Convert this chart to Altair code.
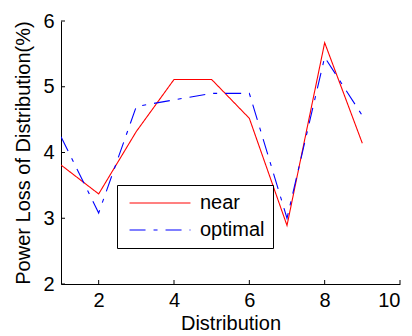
import altair as alt
import pandas as pd

x_vals = [1, 2, 3, 4, 5, 6, 7, 8, 9]
near = [3.81, 3.37, 4.32, 5.11, 5.11, 4.52, 2.89, 5.67, 4.14]
optimal = [4.24, 3.08, 4.70, 4.80, 4.90, 4.90, 3.00, 5.45, 4.56]
series = ["near", "optimal"]
x_ticks = [2, 4, 6, 8, 10]
y_ticks = [2, 3, 4, 5, 6]

rows = []
for s, vals in zip(series, [near, optimal]):
    for xv, yv in zip(x_vals, vals):
        rows.append({"x": xv, "y": yv, "series": s})
df = pd.DataFrame(rows)

FONT = "Liberation Sans"
W, H = 339, 263

xs = alt.Scale(domain=[1, 10], nice=False, zero=False)
ys = alt.Scale(domain=[2, 6], nice=False, zero=False)

axis_style = dict(tickSize=0, labelFont=FONT, labelFontSize=20, labelColor="black",
                  titleFont=FONT, titleFontSize=20, titleColor="black", titleFontWeight="normal",
                  domainColor="black", domainWidth=1, grid=False, format="d")

lines = alt.Chart(df).mark_line(strokeWidth=1.1, clip=True).encode(
    x=alt.X("x:Q", scale=xs, axis=alt.Axis(values=x_ticks, title="Distribution",
                                            labelPadding=6, titlePadding=3, **axis_style)),
    y=alt.Y("y:Q", scale=ys, axis=alt.Axis(values=y_ticks, title="Power Loss of Distribution(%)",
                                            labelPadding=7, titlePadding=9, **axis_style)),
    color=alt.Color("series:N", scale=alt.Scale(domain=series, range=["#ff0000", "#0000ff"]),
                    legend=alt.Legend(title=None, orient="none", legendX=56, legendY=164,
                                      symbolType="M-4,0L4,0", symbolSize=232, symbolStrokeWidth=1.1,
                                      symbolOffset=25,
                                      labelFontSize=20, labelFont=FONT, labelColor="black",
                                      strokeColor="black", fillColor="white", padding=8,
                                      rowPadding=7, labelOffset=30)),
    strokeDash=alt.StrokeDash("series:N", scale=alt.Scale(domain=series, range=[[1, 0], [16, 8, 4, 8]]),
                              legend=None),
)

xt = pd.DataFrame({"x": x_ticks})
yt = pd.DataFrame({"y": y_ticks})
xtick_marks = alt.Chart(xt).mark_rule(color="black", strokeWidth=1).encode(
    x=alt.X("x:Q", scale=xs), y=alt.value(H), y2=alt.value(H - 4))
ytick_marks = alt.Chart(yt).mark_rule(color="black", strokeWidth=1).encode(
    y=alt.Y("y:Q", scale=ys), x=alt.value(0), x2=alt.value(4))

chart = alt.layer(lines, xtick_marks, ytick_marks).properties(
    width=W, height=H,
    background="white",
    autosize=alt.AutoSizeParams(type="none"),
    padding={"left": 61, "top": 21, "right": 12, "bottom": 52},
).configure_view(stroke=None)

chart.save("out.html", embed_options={"renderer": "svg", "actions": False})
